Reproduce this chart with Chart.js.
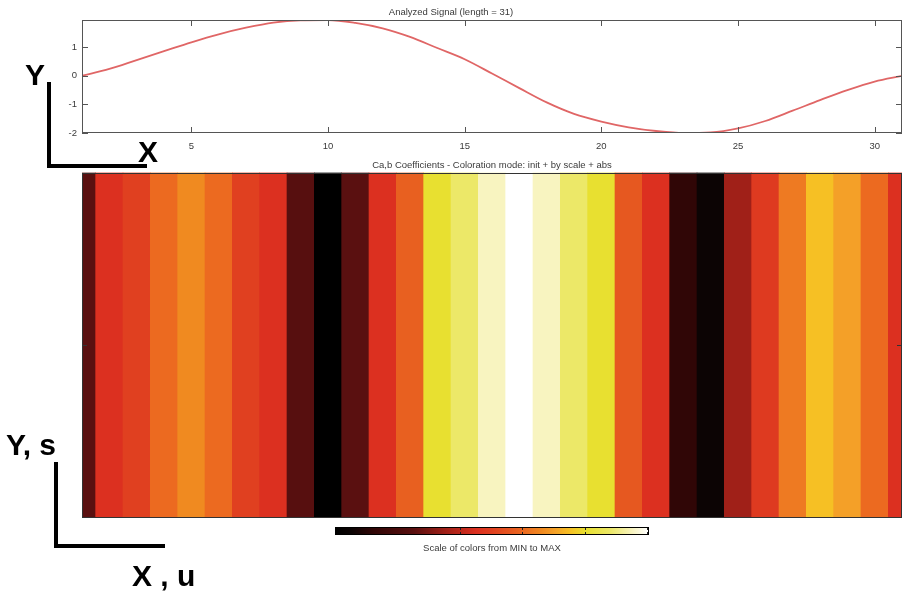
<!DOCTYPE html>
<html>
<head>
<meta charset="utf-8">
<script src="https://cdn.jsdelivr.net/npm/chart.js@4.4.0/dist/chart.umd.min.js"></script>
<style>
body { margin:0; width:905px; height:592px; background:#fff; position:relative; overflow:hidden; font-family:"Liberation Sans", Arial, sans-serif; }
.abs { position:absolute; }
#signal-wrap { left:0; top:0; width:905px; height:160px; }
#coef-wrap { left:0; top:155px; width:905px; height:370px; }
.big { font-size:30px; font-weight:bold; line-height:30px; color:#000; white-space:pre; }
.line { background:#000; }
#colorbar { left:335px; top:527px; width:312px; height:6px; border:1px solid #000; }
.cbtick { position:absolute; width:1px; height:2px; background:#222; }
#cb-label { left:335px; width:314px; top:542px; line-height:12px; text-align:center; font-size:9.5px; color:#3a3a3a; }
</style>
</head>
<body>
<div id="signal-wrap" class="abs"><canvas id="signal-chart"></canvas></div>
<div id="coef-wrap" class="abs"><canvas id="coef-chart"></canvas></div>

<div id="colorbar" class="abs"></div>
<div id="cb-label" class="abs">Scale of colors from MIN to MAX</div>

<div class="abs big" style="left:25px; top:60px;">Y</div>
<div class="abs line" style="left:47px; top:82px; width:3.5px; height:85px;"></div>
<div class="abs line" style="left:47px; top:164px; width:100px; height:3.5px;"></div>
<div class="abs big" style="left:138px; top:137px;">X</div>

<div class="abs big" style="left:6px; top:430px;">Y, s</div>
<div class="abs line" style="left:53.5px; top:462px; width:4px; height:86px;"></div>
<div class="abs line" style="left:53.5px; top:544px; width:111px; height:4px;"></div>
<div class="abs big" style="left:132px; top:561px;">X , u</div>

<script>
// analyzed signal, one sample per position u
var signalX = [1, 2, 3, 4, 5, 6, 7, 8, 9, 10, 11, 12, 13, 14, 15, 16,
               17, 18, 19, 20, 21, 22, 23, 24, 25, 26, 27, 28, 29, 30, 31];
var signalY = [0, 0.24, 0.55, 0.86, 1.17, 1.45, 1.68, 1.86, 1.94, 1.95, 1.85,
               1.66, 1.36, 0.97, 0.58, 0.08, -0.43, -0.93, -1.33, -1.6, -1.8,
               -1.93, -2.0, -1.98, -1.84, -1.58, -1.22, -0.85, -0.5, -0.2, 0];

// |Ca,b| coefficients, normalised MIN..MAX (one scale row)
var coefValues = [0.25, 0.45, 0.5, 0.6, 0.66, 0.6, 0.5, 0.45, 0.24, 0.0, 0.25,
                  0.45, 0.58, 0.8, 0.88, 0.95, 1.0, 0.95, 0.88, 0.8, 0.56,
                  0.45, 0.12, 0.05, 0.35, 0.48, 0.63, 0.75, 0.7, 0.6, 0.45];
var scaleRow = 1;

var xTickValues = [5, 10, 15, 20, 25, 30];
var yTickValues = [-2, -1, 0, 1];
var colorbarTicks = [0.4, 0.6, 0.8, 1.0];

// hot-like colour map
var hotStops = [
	[0.00, [0, 0, 0]],
	[0.05, [12, 4, 4]],
	[0.12, [48, 6, 6]],
	[0.25, [90, 16, 16]],
	[0.35, [160, 32, 24]],
	[0.45, [220, 48, 32]],
	[0.50, [224, 64, 32]],
	[0.58, [232, 96, 32]],
	[0.60, [236, 106, 32]],
	[0.63, [238, 122, 34]],
	[0.66, [240, 138, 32]],
	[0.70, [244, 160, 40]],
	[0.75, [246, 192, 36]],
	[0.80, [232, 224, 48]],
	[0.88, [236, 232, 104]],
	[0.95, [248, 244, 192]],
	[1.00, [255, 255, 255]]
];

function hotColor(v){
	for (var i = 1; i < hotStops.length; i++){
		var a = hotStops[i-1], b = hotStops[i];
		if (v <= b[0]){
			var t = (v - a[0]) / (b[0] - a[0]);
			var c = a[1].map(function(k, j){ return Math.round(k + (b[1][j] - k) * t); });
			return 'rgb(' + c.join(',') + ')';
		}
	}
	return 'rgb(255,255,255)';
}

// colour bar legend
var cb = document.getElementById('colorbar');
cb.style.background = 'linear-gradient(to right, ' + hotStops.map(function(s){
	return hotColor(s[0]) + ' ' + (s[0] * 100) + '%';
}).join(', ') + ')';
colorbarTicks.forEach(function(f){
	['0px', '4px'].forEach(function(top){
		var t = document.createElement('div');
		t.className = 'cbtick';
		t.style.left = (f * 312 - 1) + 'px';
		t.style.top = top;
		cb.appendChild(t);
	});
});

// octave style box with inward ticks
var boxTicks = {
	id: 'boxTicks',
	afterDatasetsDraw: function(chart, args, opts){
		var ctx = chart.ctx, a = chart.chartArea;
		ctx.save();
		ctx.strokeStyle = opts.color;
		ctx.lineWidth = 1;
		ctx.strokeRect(Math.round(a.left) + 0.5, Math.round(a.top) + 0.5,
			Math.round(a.width) - 1, Math.round(a.height) - 1);
		ctx.beginPath();
		(opts.xTicks || []).forEach(function(v){
			var px = Math.round(chart.scales.x.getPixelForValue(v)) + 0.5;
			ctx.moveTo(px, a.top); ctx.lineTo(px, a.top + opts.len);
			ctx.moveTo(px, a.bottom); ctx.lineTo(px, a.bottom - opts.len);
		});
		(opts.yTicks || []).forEach(function(v){
			var py = Math.round(chart.scales.y.getPixelForValue(v)) + 0.5;
			ctx.moveTo(a.left, py); ctx.lineTo(a.left + opts.len, py);
			ctx.moveTo(a.right, py); ctx.lineTo(a.right - opts.len, py);
		});
		ctx.stroke();
		ctx.restore();
	}
};

var tickFont = {family: '"Liberation Sans", Arial, sans-serif', size: 9.5};

new Chart(document.getElementById('signal-chart'), {
	type: 'line',
	data: {
		datasets: [{
			data: signalX.map(function(x, i){ return {x: x, y: signalY[i]}; }),
			borderColor: '#e06666',
			borderWidth: 1.8,
			pointRadius: 0,
			cubicInterpolationMode: 'monotone',
			fill: false
		}]
	},
	options: {
		responsive: true,
		maintainAspectRatio: false,
		animation: false,
		layout: {padding: {left: 0, right: 3, top: 0, bottom: 0}},
		plugins: {
			legend: {display: false},
			tooltip: {enabled: false},
			title: {
				display: true,
				text: 'Analyzed Signal (length = 31)',
				color: '#3a3a3a',
				font: {family: tickFont.family, size: 9.5, weight: 'normal'},
				padding: {top: 7.1, bottom: 1.5}
			},
			boxTicks: {color: '#555', len: 6, xTicks: xTickValues, yTicks: yTickValues}
		},
		scales: {
			x: {
				type: 'linear', min: 1, max: 31,
				grid: {display: false, drawTicks: false},
				border: {display: false},
				ticks: {stepSize: 5, padding: 7.3, color: '#3a3a3a', font: tickFont, maxRotation: 0},
				afterBuildTicks: function(s){ s.ticks = xTickValues.map(function(v){ return {value: v}; }); },
				afterFit: function(s){ s.height = 27; }
			},
			y: {
				min: -2, max: 1.95,
				grid: {display: false, drawTicks: false},
				border: {display: false},
				ticks: {stepSize: 1, padding: 5, color: '#3a3a3a', font: tickFont},
				afterBuildTicks: function(s){ s.ticks = yTickValues.map(function(v){ return {value: v}; }); },
				afterFit: function(s){ s.width = 82; }
			}
		}
	},
	plugins: [boxTicks]
});

new Chart(document.getElementById('coef-chart'), {
	type: 'bar',
	data: {
		datasets: [{
			data: signalX.map(function(x){ return {x: x, y: scaleRow}; }),
			backgroundColor: coefValues.map(hotColor),
			borderWidth: 0,
			barPercentage: 1,
			categoryPercentage: 1,
			clip: 0
		}]
	},
	options: {
		responsive: true,
		maintainAspectRatio: false,
		animation: false,
		layout: {padding: {left: 82, right: 3, top: 0, bottom: 8}},
		plugins: {
			legend: {display: false},
			tooltip: {enabled: false},
			title: {
				display: true,
				text: 'Ca,b Coefficients - Coloration mode: init + by scale + abs',
				color: '#3a3a3a',
				font: {family: tickFont.family, size: 9.5, weight: 'normal'},
				padding: {top: 4.3, bottom: 1.8}
			},
			boxTicks: {color: '#333', len: 5, yTicks: [0.5]}
		},
		scales: {
			x: {type: 'linear', min: 1, max: 31, offset: false, display: false},
			y: {min: 0, max: 1, display: false}
		}
	},
	plugins: [boxTicks]
});
</script>
</body>
</html>
